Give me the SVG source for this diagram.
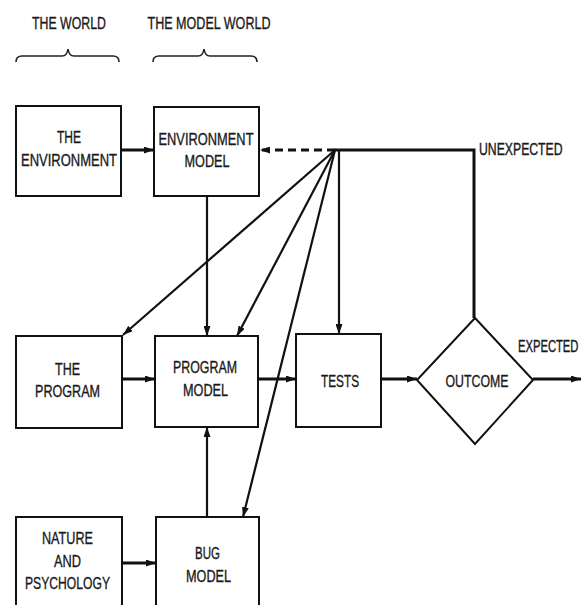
<svg xmlns="http://www.w3.org/2000/svg" width="581" height="605" viewBox="0 0 581 605">
  <style>
    .box { fill: #fff; stroke: #111; stroke-width: 2; }
    .lbl { font-family: "Liberation Sans", Arial, sans-serif; font-size: 17px; fill: #1a1a1a; stroke: #1a1a1a; stroke-width: 0.35; text-anchor: middle; }
    .lbl-l { font-family: "Liberation Sans", Arial, sans-serif; font-size: 17px; fill: #1a1a1a; stroke: #1a1a1a; stroke-width: 0.4; }
    .brace { fill: none; stroke: #222; stroke-width: 1.6; }
    .ln { fill: none; stroke: #111; stroke-width: 2.2; }
    .thick { fill: none; stroke: #111; stroke-width: 3; }
    .dash { fill: none; stroke: #111; stroke-width: 3; stroke-dasharray: 8 5; }
    .arr { marker-end: url(#ah); }
  </style>
  <defs>
    <marker id="ah" markerUnits="userSpaceOnUse" markerWidth="10" markerHeight="7" refX="10" refY="3.5" orient="auto">
      <path d="M0,0 L10,3.5 L0,7 Z" fill="#111"/>
    </marker>
  </defs>

  <rect width="581" height="605" fill="#fff"/>

  <!-- column headings -->
  <g id="heading-world">
    <text class="lbl" x="69" y="29" textLength="74" lengthAdjust="spacingAndGlyphs">THE WORLD</text>
    <path class="brace" d="M16,62 Q16,56 22,56 L62,56 Q67,56 68,49 Q69,56 74,56 L113,56 Q119,56 119,62"/>
  </g>
  <g id="heading-model-world">
    <text class="lbl" x="209" y="29" textLength="123" lengthAdjust="spacingAndGlyphs">THE MODEL WORLD</text>
    <path class="brace" d="M153,62 Q153,56 159,56 L198,56 Q203,56 204,49 Q205,56 210,56 L251,56 Q257,56 257,62"/>
  </g>

  <!-- connectors -->
  <g id="connectors">
    <path class="thick arr" d="M121,150 L154,150"/>
    <path class="dash arr" d="M335,150 L260,150"/>
    <path class="thick" d="M334,150 L474,150 L474,318"/>
    <path class="ln arr" d="M335,150 L123,335"/>
    <path class="ln arr" d="M335,150 L237,336"/>
    <path class="ln arr" d="M339,150 L339,334"/>
    <path class="ln arr" d="M335,150 L243,517"/>
    <path class="ln arr" d="M207,196 L207,336"/>
    <path class="ln arr" d="M207,517 L207,427"/>
    <path class="thick arr" d="M122,379 L155,379"/>
    <path class="thick arr" d="M258,379 L296,379"/>
    <path class="thick arr" d="M381,379 L417,379"/>
    <path class="thick arr" d="M533,379 L581,379"/>
    <path class="thick arr" d="M122,563 L156,563"/>
  </g>

  <!-- nodes -->
  <g id="the-environment">
    <rect class="box" x="16" y="106" width="105" height="90"/>
    <text class="lbl" x="69" y="143" textLength="24" lengthAdjust="spacingAndGlyphs">THE</text>
    <text class="lbl" x="69" y="166" textLength="96" lengthAdjust="spacingAndGlyphs">ENVIRONMENT</text>
  </g>
  <g id="environment-model">
    <rect class="box" x="154" y="107" width="105" height="89"/>
    <text class="lbl" x="206" y="145" textLength="95" lengthAdjust="spacingAndGlyphs">ENVIRONMENT</text>
    <text class="lbl" x="207" y="167" textLength="45" lengthAdjust="spacingAndGlyphs">MODEL</text>
  </g>
  <g id="the-program">
    <rect class="box" x="16" y="336" width="106" height="92"/>
    <text class="lbl" x="67.5" y="375" textLength="25" lengthAdjust="spacingAndGlyphs">THE</text>
    <text class="lbl" x="67.5" y="397" textLength="65" lengthAdjust="spacingAndGlyphs">PROGRAM</text>
  </g>
  <g id="program-model">
    <rect class="box" x="155" y="336" width="103" height="91"/>
    <text class="lbl" x="205" y="373" textLength="64" lengthAdjust="spacingAndGlyphs">PROGRAM</text>
    <text class="lbl" x="205.5" y="396" textLength="45" lengthAdjust="spacingAndGlyphs">MODEL</text>
  </g>
  <g id="tests">
    <rect class="box" x="296" y="334" width="85" height="93"/>
    <text class="lbl" x="340" y="387" textLength="38" lengthAdjust="spacingAndGlyphs">TESTS</text>
  </g>
  <g id="outcome">
    <path class="box" d="M475,318 L533,380 L475,444 L417,380 Z"/>
    <text class="lbl" x="477" y="387" textLength="63" lengthAdjust="spacingAndGlyphs">OUTCOME</text>
  </g>
  <!-- branch labels: condensed horizontally to fit beside the lines -->
  <g id="label-unexpected">
    <text class="lbl-l" transform="translate(479,155) scale(0.72,1)">UNEXPECTED</text>
  </g>
  <g id="label-expected">
    <text class="lbl-l" transform="translate(518,352) scale(0.66,1)">EXPECTED</text>
  </g>
  <g id="nature-and-psychology">
    <rect class="box" x="16" y="517" width="106" height="100"/>
    <text class="lbl" x="67.5" y="544" textLength="51" lengthAdjust="spacingAndGlyphs">NATURE</text>
    <text class="lbl" x="67.5" y="567" textLength="27" lengthAdjust="spacingAndGlyphs">AND</text>
    <text class="lbl" x="67.5" y="589" textLength="85" lengthAdjust="spacingAndGlyphs">PSYCHOLOGY</text>
  </g>
  <g id="bug-model">
    <rect class="box" x="156" y="517" width="103" height="100"/>
    <text class="lbl" x="207.5" y="559" textLength="25" lengthAdjust="spacingAndGlyphs">BUG</text>
    <text class="lbl" x="208.5" y="582" textLength="45" lengthAdjust="spacingAndGlyphs">MODEL</text>
  </g>
</svg>
